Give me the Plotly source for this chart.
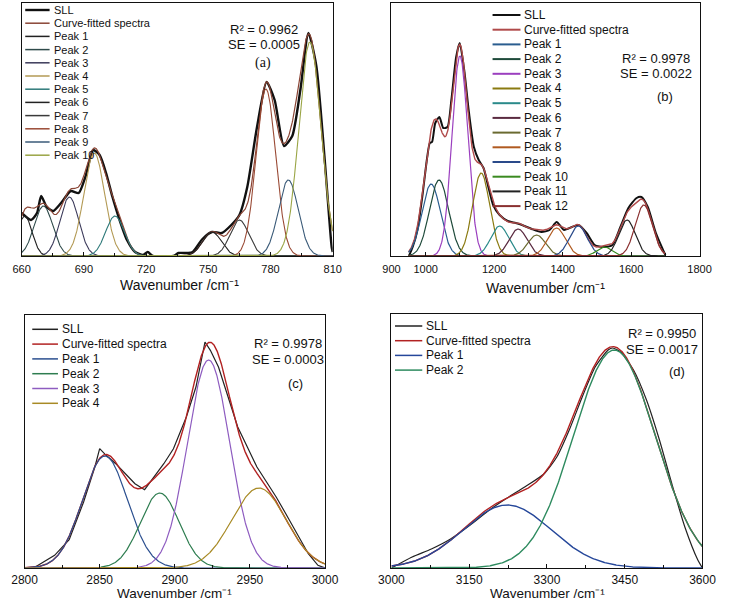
import numpy as np
import plotly.graph_objects as go

W, H = 729, 603

# ---------------- data: panel (a) 660-810 cm-1 ----------------
a_peak_center = [661.5, 670.5, 683.0, 695.0, 705.0, 751.8, 765.0, 777.8, 788.6, 799.0]
a_peak_height = [40, 50, 59, 103, 40, 24, 36, 167, 76, 214]
a_peak_width = [3.5, 4.5, 4.5, 5.0, 4.5, 4.5, 4.5, 4.7, 4.8, 5.3]
a_sll_x = [660, 664.5, 667.4, 669.4, 672.1, 675.2, 679, 683.7, 687.5, 690.7, 694.5, 697.6,
           700.7, 703.8, 706.9, 710.8, 714.7, 718.5, 720.8, 723.2, 733.2, 735.6, 740.2,
           742.5, 747.2, 751.8, 756.5, 761.1, 765, 768.8, 773.5, 778.1, 782, 786.5,
           790.5, 794.4, 798.3, 802.1, 806, 809.5, 810]
a_sll_y = [43, 36, 43, 60, 49, 45, 53, 65, 63, 79, 106, 101, 83, 59, 38, 16, 4, 1, 4, 0,
           0, 3, 3, 4, 17, 24, 23, 31, 41, 69, 129, 174, 156, 110, 120, 166, 223, 190,
           100, 9, 4]
a_r2, a_se = "0.9962", "0.0005"

# ---------------- data: panel (b) 900-1800 cm-1 ----------------
b_peak_center = [1016, 1039, 1100, 1162, 1216, 1270, 1324, 1382, 1446, 1522, 1588, 1637]
b_peak_height = [72, 76, 200, 83, 30, 27, 21, 28, 30, 9, 36, 51]
b_peak_width = [27, 28, 23, 25, 26, 26, 26, 26, 26, 22, 24, 25]
b_sll_x = [951, 962, 976, 990, 1004.5, 1012, 1018.5, 1028, 1040, 1051.5, 1063.7, 1075,
           1089, 1099.4, 1112.5, 1126.6, 1140.8, 1154.9, 1169, 1183, 1197, 1216, 1239.5,
           1263, 1281.8, 1310, 1338, 1362, 1382.5, 1404, 1427.6, 1446.5, 1470, 1493.5,
           1521.6, 1545.3, 1568.7, 1592, 1616, 1630, 1648.7, 1672.3, 1700]
b_sll_y = [0, 9, 26, 59, 99, 113, 114, 133, 139, 128, 129, 156, 199, 213, 186, 143, 109,
           96, 88, 69, 51, 41, 35, 33, 31, 27, 24, 26, 34, 26, 29, 31, 23, 11, 9, 11, 29,
           48, 58, 59, 49, 23, 1]
b_r2, b_se = "0.9978", "0.0022"

# ---------------- data: panel (c) 2800-3000 cm-1 ----------------
c_peak_center = [2853.5, 2890, 2922.5, 2956]
c_peak_height = [112, 75, 208, 80]
c_peak_width = [15, 13, 14, 18]
c_sll_x = [2806, 2820, 2829.7, 2839.3, 2846.8, 2850, 2854.3, 2860.7, 2869.2, 2873.5,
           2879.9, 2886.3, 2892.7, 2899.1, 2907.7, 2914.1, 2920.1, 2923.7, 2929.1,
           2935.5, 2941.9, 2948.3, 2954.7, 2961.1, 2967.5, 2973.9, 2980.3, 2988.9,
           2995.3, 3000]
c_sll_y = [0, 12.7, 28.3, 66, 101, 119.3, 112.7, 104.3, 91, 84.3, 78.3, 91, 104.3, 119.3,
           151, 181, 226, 217.7, 201, 171, 141, 121, 101, 86, 71, 54.3, 37.7, 14.3, 2.7, 0]
c_r2, c_se = "0.9978", "0.0003"

# ---------------- data: panel (d) 3000-3600 cm-1 ----------------
d_peak_center = [3223, 3430]
d_peak_height = [63, 218]
d_peak_width = [85, 79]
d_sll_x = [3000, 3040, 3077, 3114, 3152, 3189, 3220, 3257, 3294, 3319, 3343, 3368, 3393,
           3418, 3427, 3442, 3467, 3492, 3517, 3541, 3566, 3591, 3600]
d_sll_y = [0, 11, 19, 29, 43, 58, 69, 81, 94, 111, 138, 171, 201, 218, 220, 216, 198,
           168, 128, 84, 41, 8, 0]
d_r2, d_se = "0.9950", "0.0017"

# ---------------- styles ----------------
a_colors = ["#222222", "#2e4a4a", "#3b3a5a", "#b39a55", "#2f7a7a", "#222222", "#3a3a3a",
            "#9a4a35", "#3a5a78", "#9aa545"]
b_colors = ["#2a5d8f", "#1e4a3a", "#9b3fbf", "#8a7a10", "#2a8a8a", "#5a2a40", "#6a6a30",
            "#b05a20", "#2a4a8a", "#3a8a20", "#222222", "#8a3030"]
c_colors = ["#2b4f8f", "#2e7d50", "#8e5cc0", "#a88a25"]
d_colors = ["#25479a", "#2e8b5f"]

FONT = "Liberation Sans, Arial, sans-serif"


def gauss(x, c, h, s):
    return h * np.exp(-0.5 * ((x - c) / s) ** 2)


fig = go.Figure()

panels = [
    dict(key="a", xa="x", ya="y", rng=(660, 810), grid=(660, 810),
         centers=a_peak_center, heights=a_peak_height, widths=a_peak_width,
         sx=a_sll_x, sy=a_sll_y, colors=a_colors, sll_col="#111111", sll_w=2.4,
         fit_col="#8a4535", fit_w=1.2, peak_w=1.1, shape="spline",
         xdom=(9, 332), ydom=(3, 256), yr=253, standoff=3,
         tickvals=[660, 690, 720, 750, 780, 810], minor=15, tickfont=11),
    dict(key="b", xa="x2", ya="y2", rng=(900, 1800), grid=(950, 1700),
         centers=b_peak_center, heights=b_peak_height, widths=b_peak_width,
         sx=b_sll_x, sy=b_sll_y, colors=b_colors, sll_col="#111111", sll_w=2.0,
         fit_col="#b04a4a", fit_w=1.4, peak_w=1.2, shape="spline",
         xdom=(393, 713), ydom=(3, 256), yr=253, standoff=3,
         tickvals=[900, 1000, 1200, 1400, 1600, 1800], minor=100, tickfont=11),
    dict(key="c", xa="x3", ya="y3", rng=(2800, 3000), grid=(2800, 3000),
         centers=c_peak_center, heights=c_peak_height, widths=c_peak_width,
         sx=c_sll_x, sy=c_sll_y, colors=c_colors, sll_col="#222222", sll_w=1.2,
         fit_col="#b22222", fit_w=1.4, peak_w=1.2, shape="linear",
         xdom=(12, 324), ydom=(315, 568), yr=253, standoff=0,
         tickvals=[2800, 2850, 2900, 2950, 3000], minor=25, tickfont=12),
    dict(key="d", xa="x4", ya="y4", rng=(3000, 3600), grid=(3000, 3600),
         centers=d_peak_center, heights=d_peak_height, widths=d_peak_width,
         sx=d_sll_x, sy=d_sll_y, colors=d_colors, sll_col="#222222", sll_w=1.2,
         fit_col="#b22222", fit_w=1.4, peak_w=1.4, shape="spline",
         xdom=(393, 716), ydom=(314, 568), yr=254, standoff=0,
         tickvals=[3000, 3150, 3300, 3450, 3600], minor=75, tickfont=12),
]

layout_axes = {}
for i, p in enumerate(panels):
    xg = np.linspace(p["grid"][0], p["grid"][1], 800)
    total = np.zeros_like(xg)
    peak_curves = []
    for c, h, s in zip(p["centers"], p["heights"], p["widths"]):
        yv = gauss(xg, c, h, s)
        total = total + yv
        peak_curves.append(yv)
    fig.add_trace(go.Scatter(x=p["sx"], y=p["sy"], mode="lines", name="SLL",
                             line=dict(color=p["sll_col"], width=p["sll_w"],
                                       shape=p["shape"], smoothing=0.6),
                             xaxis=p["xa"], yaxis=p["ya"], showlegend=False))
    fig.add_trace(go.Scatter(x=xg, y=total, mode="lines", name="Curve-fitted spectra",
                             line=dict(color=p["fit_col"], width=p["fit_w"]),
                             xaxis=p["xa"], yaxis=p["ya"], showlegend=False))
    for j, yv in enumerate(peak_curves):
        fig.add_trace(go.Scatter(x=xg, y=yv, mode="lines", name=f"Peak {j+1}",
                                 line=dict(color=p["colors"][j], width=p["peak_w"]),
                                 xaxis=p["xa"], yaxis=p["ya"], showlegend=False))
    sfx = "" if i == 0 else str(i + 1)
    layout_axes["xaxis" + sfx] = dict(
        domain=[p["xdom"][0] / W, p["xdom"][1] / W], anchor="y" + sfx,
        range=list(p["rng"]), tickvals=p["tickvals"], showgrid=False, zeroline=False,
        showline=True, mirror=True, linecolor="#111111", linewidth=1.3,
        ticks="inside", ticklen=4, tickcolor="#111111", tickwidth=1,
        minor=dict(ticks="inside", ticklen=3, tick0=p["rng"][0], dtick=p["minor"],
                   tickcolor="#111111"),
        tickfont=dict(family=FONT, size=p["tickfont"], color="#111111"),
        ticklabelstandoff=p["standoff"], ticklabeloverflow="allow")
    layout_axes["yaxis" + sfx] = dict(
        domain=[1 - p["ydom"][1] / H, 1 - p["ydom"][0] / H], anchor="x" + sfx,
        range=[0, p["yr"]], showgrid=False, zeroline=False, showline=True, mirror=True,
        linecolor="#111111", linewidth=1.3, showticklabels=False, ticks="")

shapes = []
annotations = []


def px(x):
    return x / W


def py(y):
    return 1 - y / H


def add_legend(names, colors, widths, x0, x1, xt, y0, dy, fsize):
    for k, (nm, col, lw) in enumerate(zip(names, colors, widths)):
        yy = y0 + dy * k
        shapes.append(dict(type="line", xref="paper", yref="paper", x0=px(x0), x1=px(x1),
                           y0=py(yy), y1=py(yy), line=dict(color=col, width=lw)))
        annotations.append(dict(text=nm, xref="paper", yref="paper", x=px(xt), y=py(yy),
                                xanchor="left", yanchor="middle", showarrow=False,
                                font=dict(family=FONT, size=fsize, color="#111111")))


def add_text(txt, x, y, size, family=FONT, yanchor="middle"):
    annotations.append(dict(text=txt, xref="paper", yref="paper", x=px(x), y=py(y),
                            xanchor="center", yanchor=yanchor, showarrow=False,
                            font=dict(family=family, size=size, color="#111111")))


add_legend(["SLL", "Curve-fitted spectra"] + [f"Peak {k+1}" for k in range(len(a_peak_center))],
           ["#111111", "#8a4535"] + a_colors, [2.4] + [1.5] * 11, 12.7, 38, 40, 10, 13.2, 11)
add_legend(["SLL", "Curve-fitted spectra"] + [f"Peak {k+1}" for k in range(len(b_peak_center))],
           ["#111111", "#b04a4a"] + b_colors, [2.0] * 14, 498, 527, 529, 15, 14.7, 12)
add_legend(["SLL", "Curve-fitted spectra"] + [f"Peak {k+1}" for k in range(len(c_peak_center))],
           ["#222222", "#b22222"] + c_colors, [1.5] * 6, 20, 46.7, 48.5, 329.3, 14.8, 12)
add_legend(["SLL", "Curve-fitted spectra"] + [f"Peak {k+1}" for k in range(len(d_peak_center))],
           ["#222222", "#b22222"] + d_colors, [1.5] * 4, 396.7, 425, 427, 326, 14.7, 12)

add_text(f"R\u00b2 = {a_r2}", 261, 29.3, 13)
add_text(f"SE = {a_se}", 261, 45, 13)
add_text("(a)", 260, 63.3, 14, "Liberation Serif, Times New Roman, serif")
add_text(f"R\u00b2 = {b_r2}", 668, 58.3, 13)
add_text(f"SE = {b_se}", 668, 73.3, 13)
add_text("(b)", 676.7, 96.7, 13)
add_text(f"R\u00b2 = {c_r2}", 285.5, 343.3, 13)
add_text(f"SE = {c_se}", 285.5, 360, 13)
add_text("(c)", 293.3, 383.3, 13)
add_text(f"R\u00b2 = {d_r2}", 674, 333.3, 13)
add_text(f"SE = {d_se}", 674, 349.3, 13)
add_text("(d)", 690, 371.7, 13)

title = "Wavenumber /cm\u207b\u00b9"
add_text(title, 173, 285, 14)
add_text(title, 553, 288, 14)
add_text(title, 168, 603, 13.5, yanchor="bottom")
add_text(title, 555, 603, 13.5, yanchor="bottom")

fig.update_layout(width=W, height=H, margin=dict(l=0, r=0, t=0, b=0),
                  paper_bgcolor="white", plot_bgcolor="white", showlegend=False,
                  shapes=shapes, annotations=annotations, **layout_axes)

fig.write_html("out.html", config={"displayModeBar": False},
               post_script="document.body.style.margin='0';document.body.style.overflow='hidden';")
